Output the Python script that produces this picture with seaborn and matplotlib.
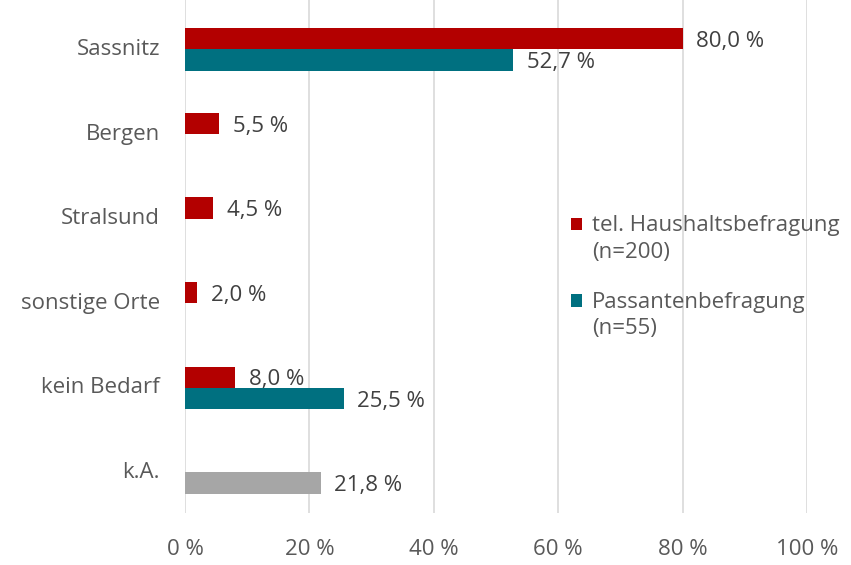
import matplotlib
matplotlib.use("Agg")
import matplotlib.pyplot as plt
import seaborn as sns
import pandas as pd
from matplotlib.patches import Patch, Rectangle
from matplotlib.legend_handler import HandlerPatch

categories = ["Sassnitz", "Bergen", "Stralsund", "sonstige Orte", "kein Bedarf", "k.A."]
series_names = ["tel. Haushaltsbefragung\n(n=200)", "Passantenbefragung\n(n=55)"]
haushalt = [80.0, 5.5, 4.5, 2.0, 8.0, None]
passanten = [52.7, None, None, None, 25.5, 21.8]
x_ticks = [0, 20, 40, 60, 80, 100]
x_ticklabels = ["0 %", "20 %", "40 %", "60 %", "80 %", "100 %"]

colors = ["#B30000", "#007080"]
grey = "#A6A6A6"
text_col = "#595959"
FS = 16
LS = 1.36

rows = []
for name, vals in zip(series_names, [haushalt, passanten]):
    for c, v in zip(categories, vals):
        if v is not None:
            rows.append({"Ort": c, "Wert": v, "Serie": name})
df = pd.DataFrame(rows)

sns.set_theme(style="white")
plt.rcParams["font.family"] = ["Open Sans", "DejaVu Sans"]

fig = plt.figure(figsize=(8.51, 5.65), dpi=100)
ax = fig.add_axes([185 / 851, 52 / 565, 622 / 851, 513 / 565])

sns.barplot(data=df, y="Ort", x="Wert", hue="Serie", order=categories,
            hue_order=series_names, palette=colors, orient="h", width=0.5,
            legend=False, ax=ax, saturation=1, linewidth=0)

# k.A. bar in grey
for patch in ax.containers[1]:
    y = patch.get_y() + patch.get_height() / 2
    if abs(y - (categories.index("k.A.") + 0.125)) < 0.01:
        patch.set_facecolor(grey)

for cont in ax.containers:
    for patch in cont:
        w = patch.get_width()
        y = patch.get_y() + patch.get_height() / 2
        ax.annotate(f"{w:.1f} %".replace(".", ","), xy=(w, y), xytext=(10, -2),
                    textcoords="offset points", va="center", ha="left",
                    fontsize=FS, color="#404040")

ax.set_xlim(0, 100)
ax.set_ylim(5.48, -0.584)
ax.set_xticks(x_ticks)
ax.set_xticklabels(x_ticklabels)
ax.set_xlabel("")
ax.set_ylabel("")
ax.tick_params(axis="x", length=0, pad=19, labelsize=FS, labelcolor=text_col)
ax.tick_params(axis="y", length=0, pad=18, labelsize=FS, labelcolor=text_col)
for lbl in ax.get_yticklabels():
    lbl.set_va("center")
ax.grid(axis="x", color="#D9D9D9", linewidth=1.2)
ax.grid(axis="y", visible=False)
ax.set_axisbelow(True)
for s in ax.spines.values():
    s.set_visible(False)


class TopHandler(HandlerPatch):
    def create_artists(self, legend, orig_handle, xdescent, ydescent,
                       width, height, fontsize, trans):
        p = Rectangle((-xdescent, -ydescent + 0.5 * LS * fontsize), width, height)
        self.update_prop(p, orig_handle, legend)
        p.set_transform(trans)
        return [p]


handles = [Patch(facecolor=c, edgecolor="none") for c in colors]
leg = fig.legend(handles, series_names, loc="upper left",
                 bbox_to_anchor=(571 / 851, 1 - 215 / 565), frameon=False,
                 fontsize=FS, handlelength=0.48, handleheight=0.48,
                 handletextpad=0.45, labelspacing=1.3, borderpad=0,
                 borderaxespad=0, handler_map={Patch: TopHandler()})
for t in leg.get_texts():
    t.set_color(text_col)
    t.set_linespacing(LS)

fig.savefig("out.png", dpi=100)
